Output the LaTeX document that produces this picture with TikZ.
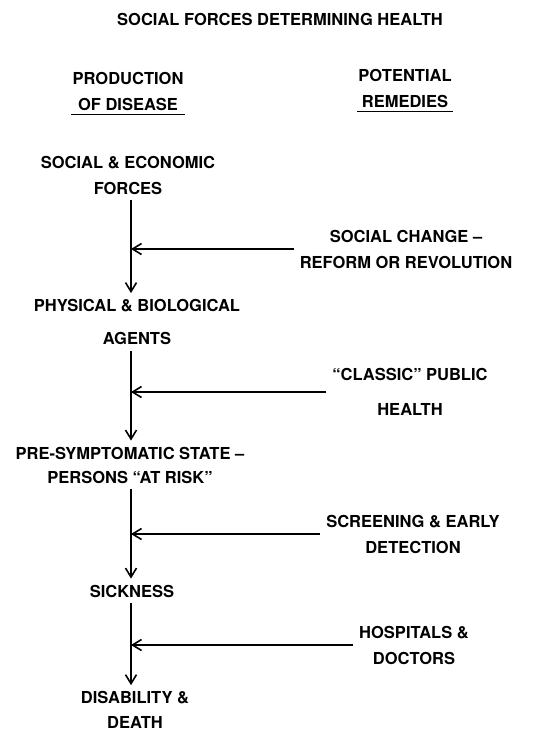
\documentclass[tikz,border=0pt]{standalone}
\usepackage{fontspec}
\setmainfont{TeX Gyre Heros}
\usetikzlibrary{arrows.meta}
\tikzset{>={Straight Barb[length=9pt,width=11pt,line width=1.6pt]}}
\tikzset{
  stage/.style={align=center, inner sep=6pt, font=\fontsize{16.5}{26}\selectfont\bfseries},
  heading/.style={stage, inner xsep=1pt, inner ysep=4pt},
  flow/.style={->, line width=1.5pt},
  uline/.style={line width=1.8pt}
}

\begin{document}
\begin{tikzpicture}[x=1pt, y=-1pt]
    \useasboundingbox (0,0) rectangle (542,736);
    \node[heading] (title) at (280,19) {SOCIAL FORCES DETERMINING HEALTH};
    \node[heading] (prodhead) at (128,91) {PRODUCTION\\OF DISEASE};
    \node[heading] (remhead) at (405,88) {POTENTIAL\\REMEDIES};
    \draw[uline] (prodhead.south west) -- (prodhead.south east);
    \draw[uline] (remhead.south west) -- (remhead.south east);
    % production of disease
    \node[stage] (social) at (128,175) {SOCIAL \& ECONOMIC\\FORCES};
    \node[stage] (physical) at (137,322) {PHYSICAL \& BIOLOGICAL\\[7pt]AGENTS};
    \node[stage] (risk) at (130,465) {PRE-SYMPTOMATIC STATE --\\[-2pt]PERSONS ``AT RISK''};
    \node[stage] (sick) at (132,591) {SICKNESS};
    \node[stage] (death) at (135,710) {DISABILITY \&\\[-1pt]DEATH};
    % potential remedies
    \node[stage] (change) at (406,249) {SOCIAL CHANGE --\\REFORM OR REVOLUTION};
    \node[stage] (classic) at (410,392) {``CLASSIC'' PUBLIC\\[9pt]HEALTH};
    \node[stage] (screen) at (413,534) {SCREENING \& EARLY\\DETECTION};
    \node[stage] (hosp) at (414,645) {HOSPITALS \&\\DOCTORS};
    \coordinate (spine) at (131,0);
    \draw[flow] (spine |- social.south) -- (spine |- physical.north);
    \draw[flow] (spine |- physical.south) -- (spine |- risk.north);
    \draw[flow] (spine |- risk.south) -- (spine |- sick.north);
    \draw[flow] (spine |- sick.south) -- (spine |- death.north);
    \draw[flow] (change.west) -- (spine |- change.west);
    \draw[flow] (classic.west) -- (spine |- classic.west);
    \draw[flow] (screen.west) -- (spine |- screen.west);
    \draw[flow] (hosp.west) -- (spine |- hosp.west);
\end{tikzpicture}
\end{document}
